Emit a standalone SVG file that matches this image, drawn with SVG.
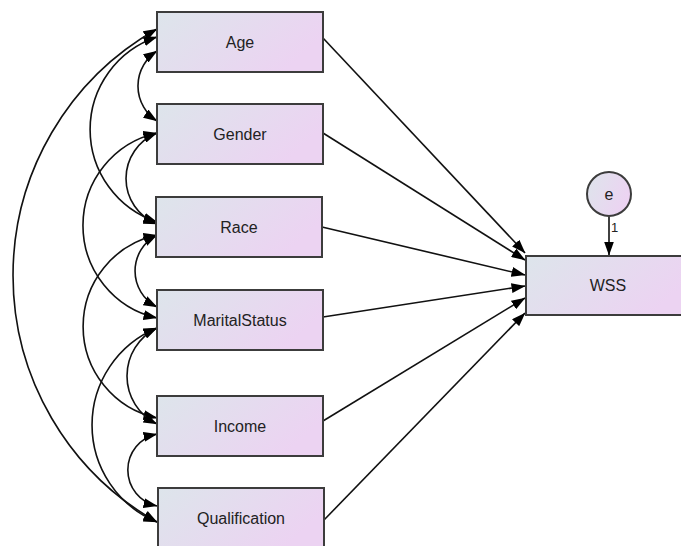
<svg xmlns="http://www.w3.org/2000/svg" width="681" height="546" viewBox="0 0 681 546">
<defs>
  <linearGradient id="fill" x1="0" y1="0" x2="1" y2="0.4">
    <stop offset="0" stop-color="#dde5eb"/>
    <stop offset="1" stop-color="#ecd3f2"/>
  </linearGradient>
  <marker id="ah" markerUnits="userSpaceOnUse" markerWidth="14" markerHeight="10" viewBox="0 0 14 10" refX="13.5" refY="5" orient="auto-start-reverse">
    <path d="M0,0 L14,5 L0,10 z" fill="#000"/>
  </marker>
</defs>
<style>
  .box { fill: url(#fill); stroke: #3c3c3c; stroke-width: 2; }
  .lbl { font-family: "Liberation Sans", Arial, sans-serif; font-size: 16px; fill: #222; text-anchor: middle; }
  .small { font-family: "Liberation Sans", Arial, sans-serif; font-size: 13px; fill: #222; }
  .con { fill: none; stroke: #111; stroke-width: 1.6; }
  .one { marker-end: url(#ah); }
  .two { marker-start: url(#ah); marker-end: url(#ah); }
</style>
<rect width="681" height="546" fill="#fff"/>

<g id="connectors">
  <!-- covariances -->
  <path class="con two" d="M157,51 A41.7,41.7 0 0 0 157,121"/>
  <path class="con two" d="M157,37 A97.4,97.4 0 0 0 157,222"/>
  <path class="con two" d="M157,29 A283,283 0 0 0 157,522"/>
  <path class="con two" d="M157,133 A48.9,48.9 0 0 0 157,224"/>
  <path class="con two" d="M157,133 A94.8,94.8 0 0 0 157,318"/>
  <path class="con two" d="M157,235 A40.5,40.5 0 0 0 157,307"/>
  <path class="con two" d="M157,235 A93.6,93.6 0 0 0 157,418"/>
  <path class="con two" d="M157,328 A53.4,53.4 0 0 0 157,424"/>
  <path class="con two" d="M157,328 A104.9,104.9 0 0 0 157,522"/>
  <path class="con two" d="M157,434 A36.8,36.8 0 0 0 157,506"/>
  <!-- regressions -->
  <path class="con one" d="M323,38 L525,253"/>
  <path class="con one" d="M323,133 L525,260"/>
  <path class="con one" d="M322,227 L525,275"/>
  <path class="con one" d="M323,317 L525,286"/>
  <path class="con one" d="M323,421 L525,298"/>
  <path class="con one" d="M324,520 L525,313"/>
  <!-- error -->
  <path class="con one" d="M609,216.5 L609,255"/>
  <text class="small" x="611" y="232">1</text>
</g>

<g id="age">
  <rect class="box" x="157" y="12" width="166" height="60"/>
  <text class="lbl" x="240" y="47.5">Age</text>
</g>
<g id="gender">
  <rect class="box" x="157" y="104" width="166" height="60"/>
  <text class="lbl" x="240" y="139.5">Gender</text>
</g>
<g id="race">
  <rect class="box" x="156" y="197" width="166" height="60"/>
  <text class="lbl" x="239" y="232.5">Race</text>
</g>
<g id="maritalstatus">
  <rect class="box" x="157" y="290" width="166" height="60"/>
  <text class="lbl" x="240" y="325.5">MaritalStatus</text>
</g>
<g id="income">
  <rect class="box" x="157" y="396" width="166" height="60"/>
  <text class="lbl" x="240" y="432">Income</text>
</g>
<g id="qualification">
  <rect class="box" x="158" y="488" width="166" height="60"/>
  <text class="lbl" x="241" y="524">Qualification</text>
</g>
<g id="wss">
  <rect class="box" x="526" y="256" width="164" height="59"/>
  <text class="lbl" x="608" y="291">WSS</text>
</g>
<g id="e">
  <circle class="box" cx="609" cy="194" r="22"/>
  <text class="lbl" x="609" y="199.5">e</text>
</g>
</svg>
